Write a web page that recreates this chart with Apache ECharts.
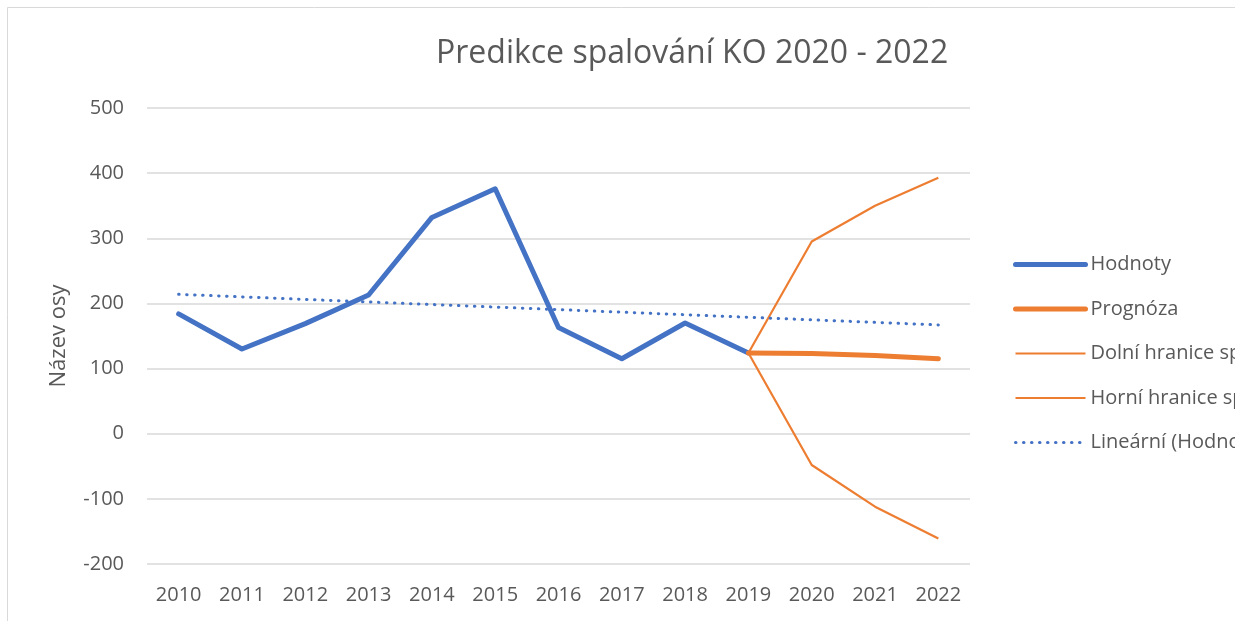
<!DOCTYPE html>
<html>
<head>
<meta charset="utf-8">
<script src="https://cdn.jsdelivr.net/npm/echarts@6/dist/echarts.min.js"></script>
<style>
  html, body { margin: 0; padding: 0; background: #fff; overflow: hidden; }
  #main { width: 1235px; height: 621px; }
</style>
</head>
<body>
<div id="main"></div>
<script>
// roky
var years = ['2010', '2011', '2012', '2013', '2014', '2015', '2016', '2017', '2018', '2019', '2020', '2021', '2022'];
// hodnoty
var hodnoty = [184, 130, 169, 213, 332, 376, 163, 115, 170, 124, null, null, null];
var prognoza = [null, null, null, null, null, null, null, null, null, 124, 123, 120, 115];
var dolni = [null, null, null, null, null, null, null, null, null, 124, -48, -112, -161];
var horni = [null, null, null, null, null, null, null, null, null, 124, 295, 350, 393];
// lineární trend - jen krajní body
var trend = [214, null, null, null, null, null, null, null, null, null, null, null, 167];

var names = ['Hodnoty', 'Prognóza', 'Dolní hranice spolehlivosti (Hodnoty)', 'Horní hranice spolehlivosti (Hodnoty)', 'Lineární (Hodnoty)'];

var blue = '#4472C4';
var orange = '#ED7D31';
var textColor = '#595959';
var font = 'Open Sans';
var dots = [0.5, 7.5];

var myChart = echarts.init(document.getElementById('main'));

var option = {
	animation: false,
	title: {
		text: 'Predikce spalování KO 2020 - 2022',
		left: 431,
		top: 33,
		textStyle: {
			fontFamily: font,
			fontSize: 32,
			fontWeight: 'normal',
			color: textColor
		}
	},
	graphic: [{
		type: 'rect',
		shape: { x: 7.5, y: 7.5, width: 1400, height: 800 },
		style: { fill: 'none', stroke: '#d9d9d9', lineWidth: 1 },
		silent: true
	}],
	legend: {
		orient: 'vertical',
		left: 1008,
		top: 249.5,
		itemWidth: 70,
		itemHeight: 20,
		itemGap: 24.5,
		itemStyle: { opacity: 0 },
		textStyle: {
			fontFamily: font,
			fontSize: 20,
			color: textColor
		},
		data: [
			{ name: names[0], lineStyle: { width: 5, cap: 'round' } },
			{ name: names[1], lineStyle: { width: 5, cap: 'round' } },
			{ name: names[2], lineStyle: { width: 2.2 } },
			{ name: names[3], lineStyle: { width: 2.2 } },
			{ name: names[4], lineStyle: { width: 3, type: dots, cap: 'round' } }
		]
	},
	grid: {
		left: 147,
		right: 265,
		top: 108,
		bottom: 57,
		containLabel: false
	},
	xAxis: {
		type: 'category',
		data: years,
		boundaryGap: true,
		axisLine: { show: false },
		axisTick: { show: false },
		axisLabel: {
			margin: 21,
			fontFamily: font,
			fontSize: 20,
			color: textColor
		}
	},
	yAxis: {
		type: 'value',
		min: -200,
		max: 500,
		interval: 100,
		name: 'Název osy',
		nameLocation: 'middle',
		nameGap: 77,
		nameTextStyle: {
			fontFamily: font,
			fontSize: 22,
			color: textColor
		},
		axisLine: { show: false },
		axisTick: { show: false },
		axisLabel: {
			margin: 23,
			fontFamily: font,
			fontSize: 20,
			color: textColor
		},
		splitLine: {
			lineStyle: { color: '#d9d9d9', width: 1.5 }
		}
	},
	series: [{
		name: names[0],
		type: 'line',
		data: hodnoty,
		symbol: 'none',
		lineStyle: { color: blue, width: 5, cap: 'round', join: 'round' },
		itemStyle: { color: blue }
	}, {
		name: names[1],
		type: 'line',
		data: prognoza,
		symbol: 'none',
		lineStyle: { color: orange, width: 5, cap: 'round', join: 'round' },
		itemStyle: { color: orange }
	}, {
		name: names[2],
		type: 'line',
		data: dolni,
		symbol: 'none',
		lineStyle: { color: orange, width: 2.2, join: 'round' },
		itemStyle: { color: orange }
	}, {
		name: names[3],
		type: 'line',
		data: horni,
		symbol: 'none',
		lineStyle: { color: orange, width: 2.2, join: 'round' },
		itemStyle: { color: orange }
	}, {
		name: names[4],
		type: 'line',
		data: trend,
		connectNulls: true,
		symbol: 'none',
		lineStyle: { color: blue, width: 3, type: dots, cap: 'round' },
		itemStyle: { color: blue }
	}]
};

myChart.setOption(option);
</script>
</body>
</html>
